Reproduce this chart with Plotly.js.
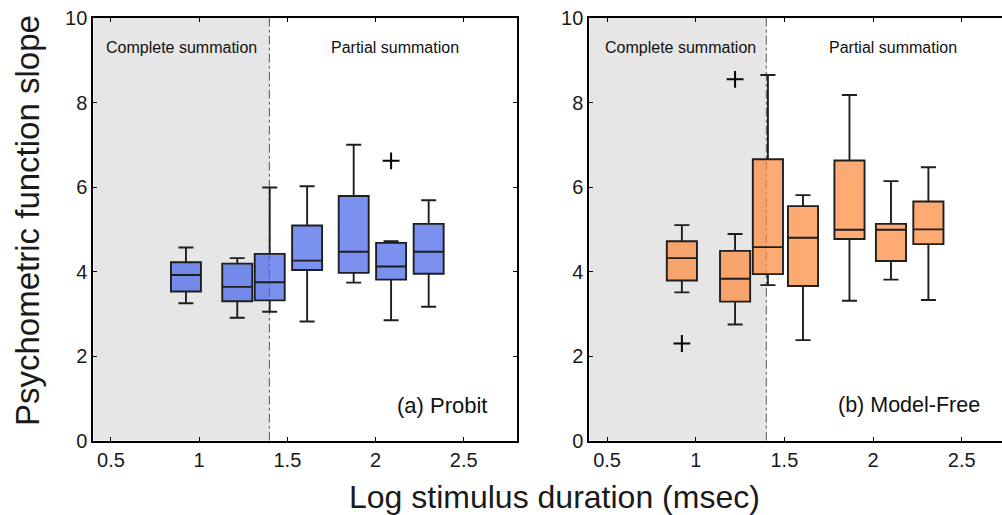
<!DOCTYPE html>
<html><head><meta charset="utf-8">
<script src="https://cdn.plot.ly/plotly-3.0.1.min.js"></script>
<style>html,body{margin:0;padding:0;background:#fff;}#chart{width:1002px;height:515px;}</style>
</head><body><div id="chart"></div>
<script>
// Log stimulus duration positions
const xProbit = [0.925, 1.216, 1.400, 1.612, 1.876, 2.088, 2.301];
const xFree   = [0.922, 1.222, 1.407, 1.605, 1.867, 2.101, 2.312];

// (a) Probit box statistics
const probitLow  = [3.25, 2.91, 3.05, 2.82, 3.74, 2.85, 3.17];
const probitQ1   = [3.53, 3.30, 3.32, 4.04, 3.97, 3.81, 3.95];
const probitMed  = [3.92, 3.64, 3.75, 4.26, 4.47, 4.12, 4.47];
const probitQ3   = [4.22, 4.19, 4.42, 5.09, 5.79, 4.68, 5.13];
const probitHigh = [4.57, 4.32, 5.99, 6.02, 7.00, 4.72, 5.69];
const probitOutX = [2.088];
const probitOutY = [6.62];

// (b) Model-Free box statistics
const freeLow  = [3.51, 2.75, 3.68, 2.38, 3.31, 3.81, 3.33];
const freeQ1   = [3.79, 3.29, 3.94, 3.66, 4.77, 4.25, 4.65];
const freeMed  = [4.32, 3.83, 4.58, 4.80, 4.99, 4.99, 5.00];
const freeQ3   = [4.72, 4.49, 6.66, 5.55, 6.63, 5.13, 5.66];
const freeHigh = [5.10, 4.89, 8.65, 5.81, 8.18, 6.14, 6.47];
const freeOutX = [0.922, 1.222];
const freeOutY = [2.30, 8.55];

const boundary = 1.398; // log10(25)
const yTicks = [0, 2, 4, 6, 8, 10];
const xTicks = [0.5, 1, 1.5, 2, 2.5];
const xTickText = ['0.5', '1', '1.5', '2', '2.5'];

const FONT = 'Liberation Sans, Arial, Helvetica, sans-serif';
const W = 1002, H = 515;
const px = v => v / W;
const py = v => 1 - v / H;

function boxTrace(x, lo, q1, med, q3, hi, fill, xa, ya) {
  return {
    type: 'box', x: x, q1: q1, median: med, q3: q3,
    lowerfence: lo, upperfence: hi,
    width: 0.17, whiskerwidth: 0.5,
    fillcolor: fill, line: {color: '#1e1e1e', width: 1.9},
    boxpoints: false, hoverinfo: 'skip', showlegend: false,
    xaxis: xa, yaxis: ya
  };
}
function outTrace(x, y, xa, ya) {
  return {
    type: 'scatter', mode: 'markers', x: x, y: y,
    marker: {symbol: 'cross-thin', size: 12, line: {color: '#000', width: 2}},
    showlegend: false, hoverinfo: 'skip', xaxis: xa, yaxis: ya
  };
}

const data = [
  boxTrace(xProbit, probitLow, probitQ1, probitMed, probitQ3, probitHigh, 'rgba(65,98,233,0.7)', 'x', 'y'),
  outTrace(probitOutX, probitOutY, 'x', 'y'),
  boxTrace(xFree, freeLow, freeQ1, freeMed, freeQ3, freeHigh, 'rgba(252,136,55,0.7)', 'x2', 'y2'),
  outTrace(freeOutX, freeOutY, 'x2', 'y2')
];

const axX = {
  range: [0.4, 2.8], tickvals: xTicks, ticktext: xTickText,
  ticks: 'inside', ticklen: 4, tickwidth: 1, tickcolor: '#000',
  showline: true, linecolor: '#000', linewidth: 2, mirror: 'ticks',
  showgrid: false, zeroline: false,
  tickfont: {family: FONT, size: 20, color: '#1a1a1a'}
};
const axY = {
  range: [0, 10], tickvals: yTicks,
  ticks: 'inside', ticklen: 4, tickwidth: 1, tickcolor: '#000',
  showline: true, linecolor: '#000', linewidth: 2, mirror: 'ticks',
  showgrid: false, zeroline: false,
  tickfont: {family: FONT, size: 20, color: '#1a1a1a'},
  domain: [py(440.7), py(18)]
};

function note(x, y, text, size, extra) {
  return Object.assign({
    xref: 'paper', yref: 'paper', x: px(x), y: py(y), text: text,
    xanchor: 'center', yanchor: 'middle', showarrow: false,
    font: {family: FONT, size: size, color: '#111'}
  }, extra || {});
}

const layout = {
  width: W, height: H,
  margin: {l: 0, r: 0, t: 0, b: 0},
  paper_bgcolor: '#fff', plot_bgcolor: '#fff',
  showlegend: false,
  xaxis: Object.assign({}, axX, {domain: [px(93.3), px(516.7)], anchor: 'y'}),
  yaxis: Object.assign({}, axY, {anchor: 'x'}),
  xaxis2: Object.assign({}, axX, {domain: [px(589.3), 1], anchor: 'y2', range: [0.4, 0.4 + (W - 589.3) / 177.35]}),
  yaxis2: Object.assign({}, axY, {anchor: 'x2', mirror: false}),
  shapes: [
    {type: 'rect', xref: 'x', yref: 'y', x0: 0.4, x1: boundary, y0: 0, y1: 10, fillcolor: '#e6e6e6', line: {width: 0}, layer: 'below'},
    {type: 'line', xref: 'x', yref: 'y', x0: boundary, x1: boundary, y0: 0, y1: 10, line: {color: '#555', width: 1, dash: 'dashdot'}, layer: 'below'},
    {type: 'rect', xref: 'x2', yref: 'y2', x0: 0.4, x1: boundary, y0: 0, y1: 10, fillcolor: '#e6e6e6', line: {width: 0}, layer: 'below'},
    {type: 'line', xref: 'x2', yref: 'y2', x0: boundary, x1: boundary, y0: 0, y1: 10, line: {color: '#555', width: 1, dash: 'dashdot'}, layer: 'below'}
  ],
  annotations: [
    note(181, 47, 'Complete summation', 16),
    note(395, 47, 'Partial summation', 16),
    note(680, 47, 'Complete summation', 16),
    note(893, 47, 'Partial summation', 16),
    note(489, 405, '(a) Probit', 22, {xanchor: 'right'}),
    note(982, 405, '(b) Model-Free', 21.5, {xanchor: 'right'}),
    note(554, 497, 'Log stimulus duration (msec)', 32, {font: {family: FONT, size: 32, color: '#1a1a1a'}}),
    note(27, 221, 'Psychometric function slope', 33, {textangle: -90, font: {family: FONT, size: 33, color: '#1a1a1a'}})
  ]
};

Plotly.newPlot('chart', data, layout, {staticPlot: true, displayModeBar: false});
</script></body></html>
